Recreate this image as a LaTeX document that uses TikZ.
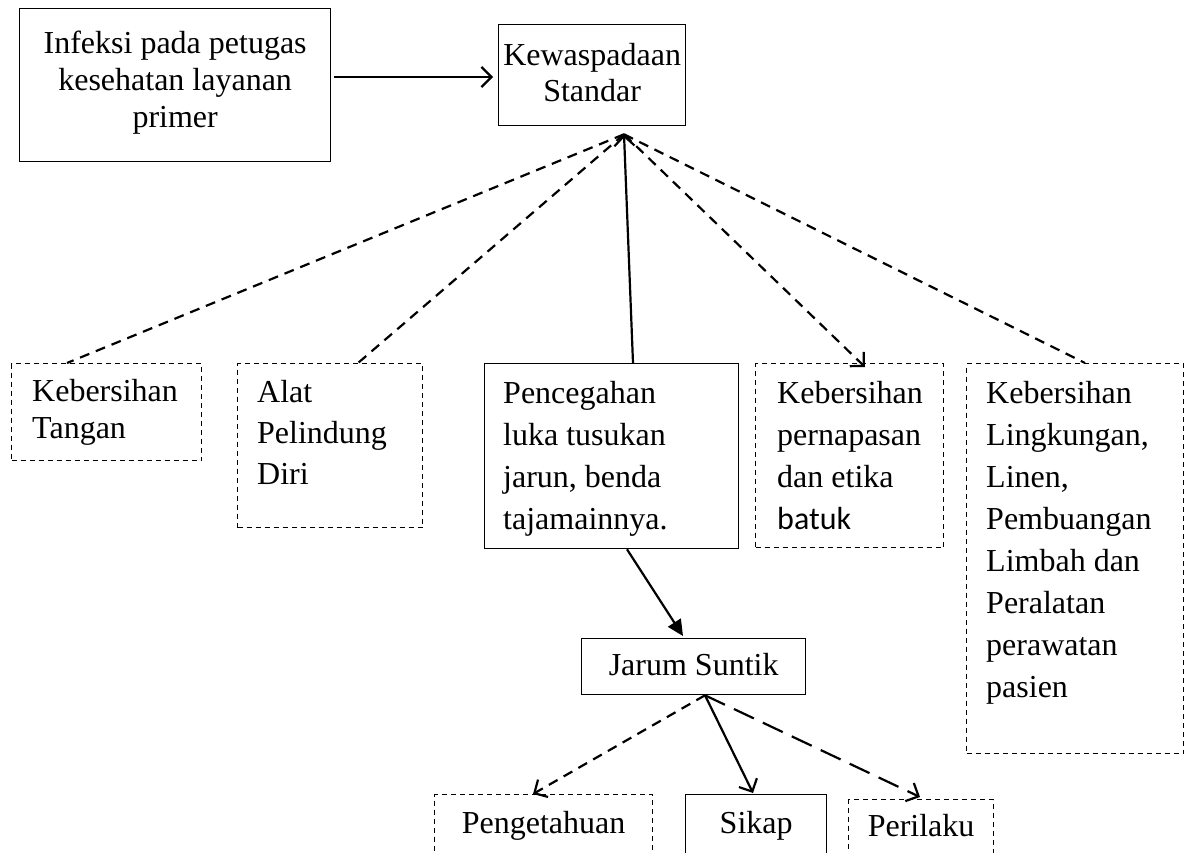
\documentclass[tikz,border=0pt]{standalone}
\usepackage{fontspec}
\setmainfont{Liberation Serif}
\newfontfamily\calibrifont{Carlito}
\usetikzlibrary{arrows.meta,calc}
\newcommand{\mlines}[2][l]{\begin{tabular}[t]{@{}#1@{}}#2\end{tabular}}
\begin{document}
\begin{tikzpicture}[x=1pt,y=-1pt,
  sbox/.style={draw,line width=1.3pt,inner sep=0pt,anchor=north west},
  dbox/.style={draw,line width=1.2pt,dash pattern=on 5pt off 4pt,inner sep=0pt,anchor=north west},
  txt/.style={inner sep=0pt,anchor=base west,font=\fontsize{32}{42}\selectfont},
  txts/.style={inner sep=0pt,anchor=base west,font=\fontsize{32}{37}\selectfont},
  ctxt/.style={inner sep=0pt,anchor=base,font=\fontsize{32}{37}\selectfont},
  conn/.style={line width=2.2pt},
  dconn/.style={conn,dash pattern=on 10pt off 7pt},
  ldconn/.style={conn,dash pattern=on 22pt off 10pt},
  barb/.style={-{Straight Barb[length=10pt,width=20pt]}},
  tri/.style={-{Triangle[length=16pt,width=15pt]}}
]
\useasboundingbox (0,0) rectangle (1193,852);
\clip (0,0) rectangle (1193,852);

% top row
\node[sbox,minimum width=311pt,minimum height=153pt] (a) at (19,8) {};
\node[ctxt] (at) at ($(a.north)+(0,45)$) {\mlines[c]{Infeksi pada petugas\\kesehatan layanan\\primer}};
\node[sbox,minimum width=187pt,minimum height=101pt] (b) at (498,24) {};
\node[ctxt,font=\fontsize{32}{36}\selectfont] (bt) at ($(b.north)+(0,41)$) {\mlines[c]{Kewaspadaan\\Standar}};

% middle row
\node[dbox,minimum width=190pt,minimum height=97pt] (c1) at (11,363) {};
\node[txts] (c1t) at ($(c1.north west)+(21,38)$) {\mlines{Kebersihan\\Tangan}};
\node[dbox,minimum width=185pt,minimum height=164pt] (c2) at (237,363) {};
\node[txt,font=\fontsize{32}{41}\selectfont] (c2t) at ($(c2.north west)+(20,39)$) {\mlines{Alat\\Pelindung\\Diri}};
\node[sbox,minimum width=254pt,minimum height=185pt] (c3) at (484,363) {};
\node[txt] (c3t) at ($(c3.north west)+(19,40)$) {\mlines{Pencegahan\\luka tusukan\\jarun, benda\\tajamainnya.}};
\node[dbox,minimum width=188pt,minimum height=184pt] (c4) at (755,363) {};
\node[txt] (c4t) at ($(c4.north west)+(22,40)$) {\mlines{Kebersihan\\pernapasan\\dan etika\\{\calibrifont batuk}}};
\node[dbox,minimum width=217pt,minimum height=390pt] (c5) at (966,363) {};
\node[txt] (c5t) at ($(c5.north west)+(20,40)$) {\mlines{Kebersihan\\Lingkungan,\\Linen,\\Pembuangan\\Limbah dan\\Peralatan\\perawatan\\pasien}};

% Jarum Suntik
\node[sbox,minimum width=224pt,minimum height=56pt] (d) at (581,638) {};
\node[ctxt] (dt) at ($(d.north)+(0,37)$) {Jarum Suntik};

% bottom row
\node[dbox,minimum width=218pt,minimum height=80pt] (e1) at (434,794) {};
\node[ctxt] (e1t) at ($(e1.north)+(0,39)$) {Pengetahuan};
\node[sbox,minimum width=141pt,minimum height=80pt] (e2) at (685,794) {};
\node[ctxt] (e2t) at ($(e2.north)+(0,39)$) {Sikap};
\node[dbox,minimum width=145pt,minimum height=80pt] (e3) at (848,799) {};
\node[ctxt] (e3t) at ($(e3.north)+(0,37)$) {Perilaku};

% connectors
\coordinate (apex) at ($(b.south west)+(126,8)$);
\draw[conn,barb] ($(a.north east)+(3,69)$) -- ($(b.north west)+(-5,53)$);
\draw[dconn] (apex) -- ($(c1.north west)+(56,0)$);
\draw[dconn] (apex) -- ($(c2.north west)+(121,0)$);
\draw[conn,barb] ($(c3.north west)+(149,0)$) -- (apex);
\draw[dconn,barb] (apex) -- ($(c4.north west)+(110,4)$);
\draw[dconn] (apex) -- ($(c5.north west)+(119,0)$);
\draw[conn,tri] ($(c3.south west)+(143,0)$) -- ($(d.north west)+(102,-2)$);
\coordinate (dsrc) at ($(d.south west)+(124,0)$);
\draw[dconn,barb] (dsrc) -- ($(e1.north west)+(99,0)$);
\draw[conn,barb] (dsrc) -- ($(e2.north west)+(68,-1)$);
\draw[ldconn,barb] (dsrc) -- ($(e3.north west)+(72,-2)$);
\end{tikzpicture}
\end{document}
